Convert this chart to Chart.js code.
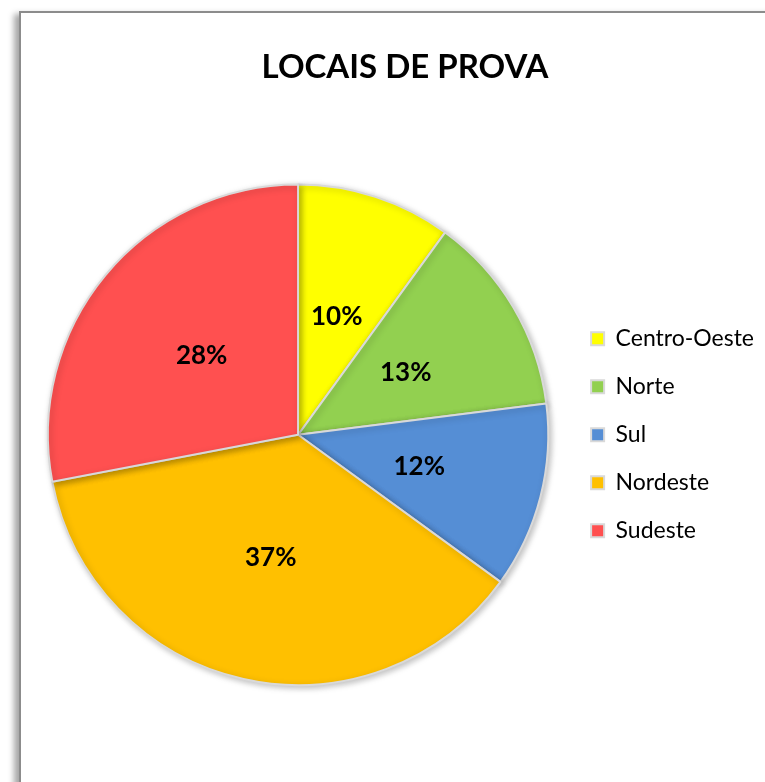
<!DOCTYPE html>
<html>
<head>
<meta charset="utf-8">
<script src="https://cdn.jsdelivr.net/npm/chart.js@4"></script>
<style>
  html, body { margin: 0; padding: 0; background: #fff; overflow: hidden; }
  body { width: 765px; height: 782px; position: relative; }
  #frame {
    position: absolute; left: 19px; top: 11px; width: 800px; height: 800px;
    border-top: 2px solid #8c8c8c; border-left: 2px solid #8c8c8c;
    box-shadow: -5px 3px 6px rgba(0,0,0,0.35);
    background: #fff;
  }
  #wrap { position: absolute; left: 0; top: 0; width: 770px; height: 769px; }
</style>
</head>
<body>
<div id="frame">
  <div id="wrap"><canvas id="pieChart"></canvas></div>
</div>
<script>
const regions = ['Centro-Oeste', 'Norte', 'Sul', 'Nordeste', 'Sudeste'];
const shares = [10, 13, 12, 37, 28];
const colors = ['#FFFF00', '#92D050', '#558ED5', '#FFC000', '#FF5050'];

// draws the % value in the middle of each slice
const sliceLabels = {
  id: 'sliceLabels',
  afterDatasetsDraw(chart) {
    const ctx = chart.ctx;
    const meta = chart.getDatasetMeta(0);
    ctx.save();
    ctx.font = 'bold 26px Lato';
    ctx.fillStyle = '#000';
    ctx.textAlign = 'center';
    ctx.textBaseline = 'middle';
    meta.data.forEach((arc, i) => {
      const p = arc.getCenterPoint();
      ctx.fillText(shares[i] + '%', p.x, p.y + 1);
    });
    ctx.restore();
  }
};

// soft shadow under the pie
const pieShadow = {
  id: 'pieShadow',
  beforeDatasetsDraw(chart) {
    chart.ctx.save();
    chart.ctx.shadowColor = 'rgba(0,0,0,0.25)';
    chart.ctx.shadowBlur = 6;
    chart.ctx.shadowOffsetX = 2;
    chart.ctx.shadowOffsetY = 2;
  },
  afterDatasetsDraw(chart) {
    chart.ctx.restore();
  }
};

// title sits a bit right of the plot centre in the original
const titleShift = {
  id: 'titleShift',
  afterLayout(chart) {
    chart.titleBlock.left += 8;
    chart.titleBlock.right += 8;
  }
};

new Chart(document.getElementById('pieChart'), {
  type: 'pie',
  data: {
    labels: regions,
    datasets: [{
      data: shares,
      backgroundColor: colors,
      borderColor: '#d9d9d9',
      borderWidth: 2
    }]
  },
  options: {
    responsive: true,
    maintainAspectRatio: false,
    animation: false,
    layout: { padding: { left: 9, right: 27, top: 0, bottom: 96 } },
    plugins: {
      title: {
        display: true,
        text: 'LOCAIS DE PROVA',
        color: '#000',
        font: { family: 'Lato', size: 33, weight: 'bold', lineHeight: 1.2 },
        padding: { top: 35, bottom: 96 }
      },
      legend: {
        position: 'right',
        fullSize: false,
        labels: {
          color: '#000',
          font: { family: 'Lato', size: 23 },
          boxWidth: 13,
          boxHeight: 13,
          padding: 25
        }
      },
      tooltip: { enabled: false }
    }
  },
  plugins: [pieShadow, sliceLabels, titleShift]
});
</script>
</body>
</html>
